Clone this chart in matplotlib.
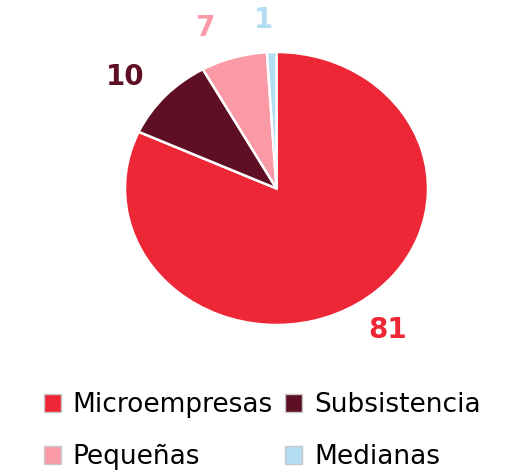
import matplotlib
matplotlib.use("Agg")
import numpy as np
import matplotlib.pyplot as plt
from matplotlib.patches import Patch

categories = ["Microempresas", "Subsistencia", "Pequeñas", "Medianas"]
values = [81, 10, 7, 1]
colors = ["#EE2737", "#5E0F24", "#F99AA6", "#B3DDF2"]

# label placement style (radius factor, angular offset in degrees)
label_r = [1.27, 1.29, 1.27, 1.24]
label_dtheta = [2.7, 3.5, 5.5, 2.3]

fig = plt.figure(figsize=(5.09, 4.75), dpi=100)
ax = fig.add_axes([125/509, (475-325)/475, 303/509, 273/475])
wedges, _ = ax.pie(values, colors=colors, startangle=90, counterclock=False,
                   wedgeprops=dict(edgecolor="white", linewidth=1.8))
for w, v, c, r, dt in zip(wedges, values, colors, label_r, label_dtheta):
    ang = np.deg2rad((w.theta1 + w.theta2) / 2 + dt)
    ax.text(r * np.cos(ang), r * np.sin(ang), str(v), color=c, fontsize=20,
            fontweight="bold", ha="center", va="center")
ax.set_xlim(-1, 1)
ax.set_ylim(-1, 1)
ax.set_aspect("auto")
ax.axis("off")

handles = [Patch(facecolor=c, edgecolor="#C8C8C8", linewidth=1.0) for c in colors]
order = [0, 2, 1, 3]
fig.legend([handles[i] for i in order], [categories[i] for i in order],
           loc="center", bbox_to_anchor=(0.515, 0.092),
           ncol=2, frameon=False, fontsize=19, handlelength=0.65, handleheight=0.65,
           handletextpad=0.45, columnspacing=0.45, labelspacing=1.0)
fig.savefig("out.png", dpi=100)
